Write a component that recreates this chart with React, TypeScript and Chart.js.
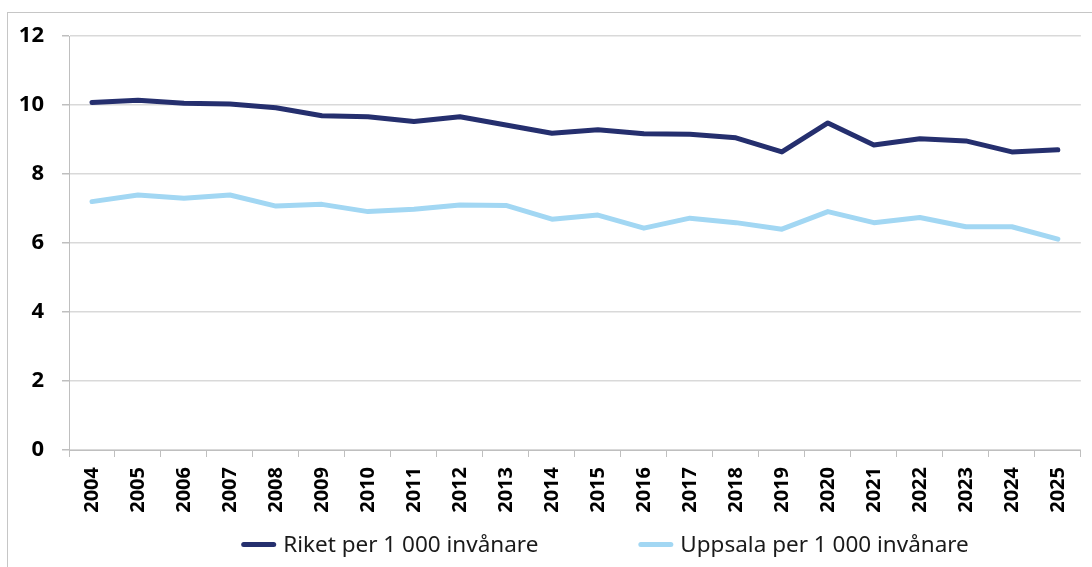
import React, { useEffect, useRef } from "react";
import { Chart, registerables } from "chart.js";

Chart.register(...registerables);

const years = ["2004","2005","2006","2007","2008","2009","2010","2011","2012","2013","2014","2015","2016","2017","2018","2019","2020","2021","2022","2023","2024","2025"];
const riket = [10.07,10.14,10.05,10.03,9.92,9.69,9.66,9.52,9.66,9.42,9.18,9.28,9.17,9.15,9.05,8.64,9.48,8.84,9.02,8.96,8.64,8.70];
const uppsala = [7.20,7.39,7.30,7.39,7.07,7.12,6.91,6.98,7.10,7.09,6.69,6.81,6.43,6.72,6.59,6.40,6.91,6.59,6.74,6.47,6.47,6.11];
const seriesLabels = ["Riket per 1 000 invånare", "Uppsala per 1 000 invånare"];
const seriesColors = ["#252f6e", "#a2d7f3"];
const yMin = 0;
const yMax = 12;
const yStep = 2;

const frame = {
  id: "frame",
  beforeDraw(chart: any) {
    const ctx = chart.ctx;
    ctx.save();
    ctx.fillStyle = "#ffffff";
    ctx.fillRect(0, 0, chart.width, chart.height);
    ctx.strokeStyle = "#c6c6c6";
    ctx.lineWidth = 1;
    ctx.strokeRect(7.5, 12.5, 1400, 800);
    ctx.restore();
  },
};

const customLegend = {
  id: "customLegend",
  afterDraw(chart: any) {
    const ctx = chart.ctx;
    ctx.save();
    ctx.font = "22.5px 'Noto Sans'";
    ctx.textBaseline = "middle";
    const lineLen = 35;
    const gap = 7;
    const itemGap = 100;
    const items = chart.data.datasets.map((d: any) => ({
      text: d.label,
      color: d.borderColor,
      w: ctx.measureText(d.label).width,
    }));
    const total =
      items.reduce((s: number, it: any) => s + lineLen + gap + it.w, 0) +
      itemGap * (items.length - 1);
    let x = 605 - total / 2;
    const y = 544.5;
    items.forEach((it: any) => {
      ctx.strokeStyle = it.color;
      ctx.lineWidth = 5;
      ctx.lineCap = "round";
      ctx.beginPath();
      ctx.moveTo(x + 2.5, y);
      ctx.lineTo(x + lineLen - 2.5, y);
      ctx.stroke();
      ctx.fillStyle = "#1a1a1a";
      ctx.fillText(it.text, x + lineLen + gap, y + 1);
      x += lineLen + gap + it.w + itemGap;
    });
    ctx.restore();
  },
};

export default function App() {
  const ref = useRef<HTMLCanvasElement | null>(null);
  useEffect(() => {
    if (!ref.current) return;
    const chart = new Chart(ref.current, {
      type: "line",
      data: {
        labels: years,
        datasets: [
          {
            label: seriesLabels[0],
            data: riket,
            borderColor: seriesColors[0],
            backgroundColor: seriesColors[0],
            borderWidth: 5,
            pointRadius: 0,
            tension: 0,
            borderCapStyle: "round",
            borderJoinStyle: "round",
          },
          {
            label: seriesLabels[1],
            data: uppsala,
            borderColor: seriesColors[1],
            backgroundColor: seriesColors[1],
            borderWidth: 5,
            pointRadius: 0,
            tension: 0,
            borderCapStyle: "round",
            borderJoinStyle: "round",
          },
        ],
      },
      options: {
        animation: false,
        responsive: false,
        devicePixelRatio: 1,
        layout: { padding: { left: 0, right: 7, top: 36, bottom: 0 } },
        plugins: {
          legend: { display: false },
          tooltip: { enabled: false },
        },
        scales: {
          x: {
            offset: true,
            grid: {
              offset: true,
              drawOnChartArea: false,
              drawTicks: true,
              tickLength: 7,
              color: "#bfbfbf",
            },
            border: { color: "#bfbfbf", width: 1 },
            ticks: {
              minRotation: 90,
              maxRotation: 90,
              autoSkip: false,
              padding: 10,
              color: "#000",
              font: { family: "'Noto Sans'", size: 20, weight: "bold" },
            },
            afterFit(scale: any) {
              scale.height = 117;
            },
          },
          y: {
            min: yMin,
            max: yMax,
            grid: {
              color: "#d9d9d9",
              lineWidth: 1.5,
              tickLength: 7,
              tickColor: "#bfbfbf",
            },
            border: { color: "#bfbfbf", width: 1 },
            ticks: {
              stepSize: yStep,
              padding: 18,
              color: "#000",
              font: { family: "'Noto Sans'", size: 22, weight: "bold" },
            },
            afterFit(scale: any) {
              scale.width = 69;
            },
          },
        },
      },
      plugins: [frame, customLegend],
    });
    return () => chart.destroy();
  }, []);
  return (
    <div style={{ position: "absolute", left: 0, top: 0, width: 1092, height: 567 }}>
      <canvas ref={ref} width={1092} height={567} />
    </div>
  );
}
